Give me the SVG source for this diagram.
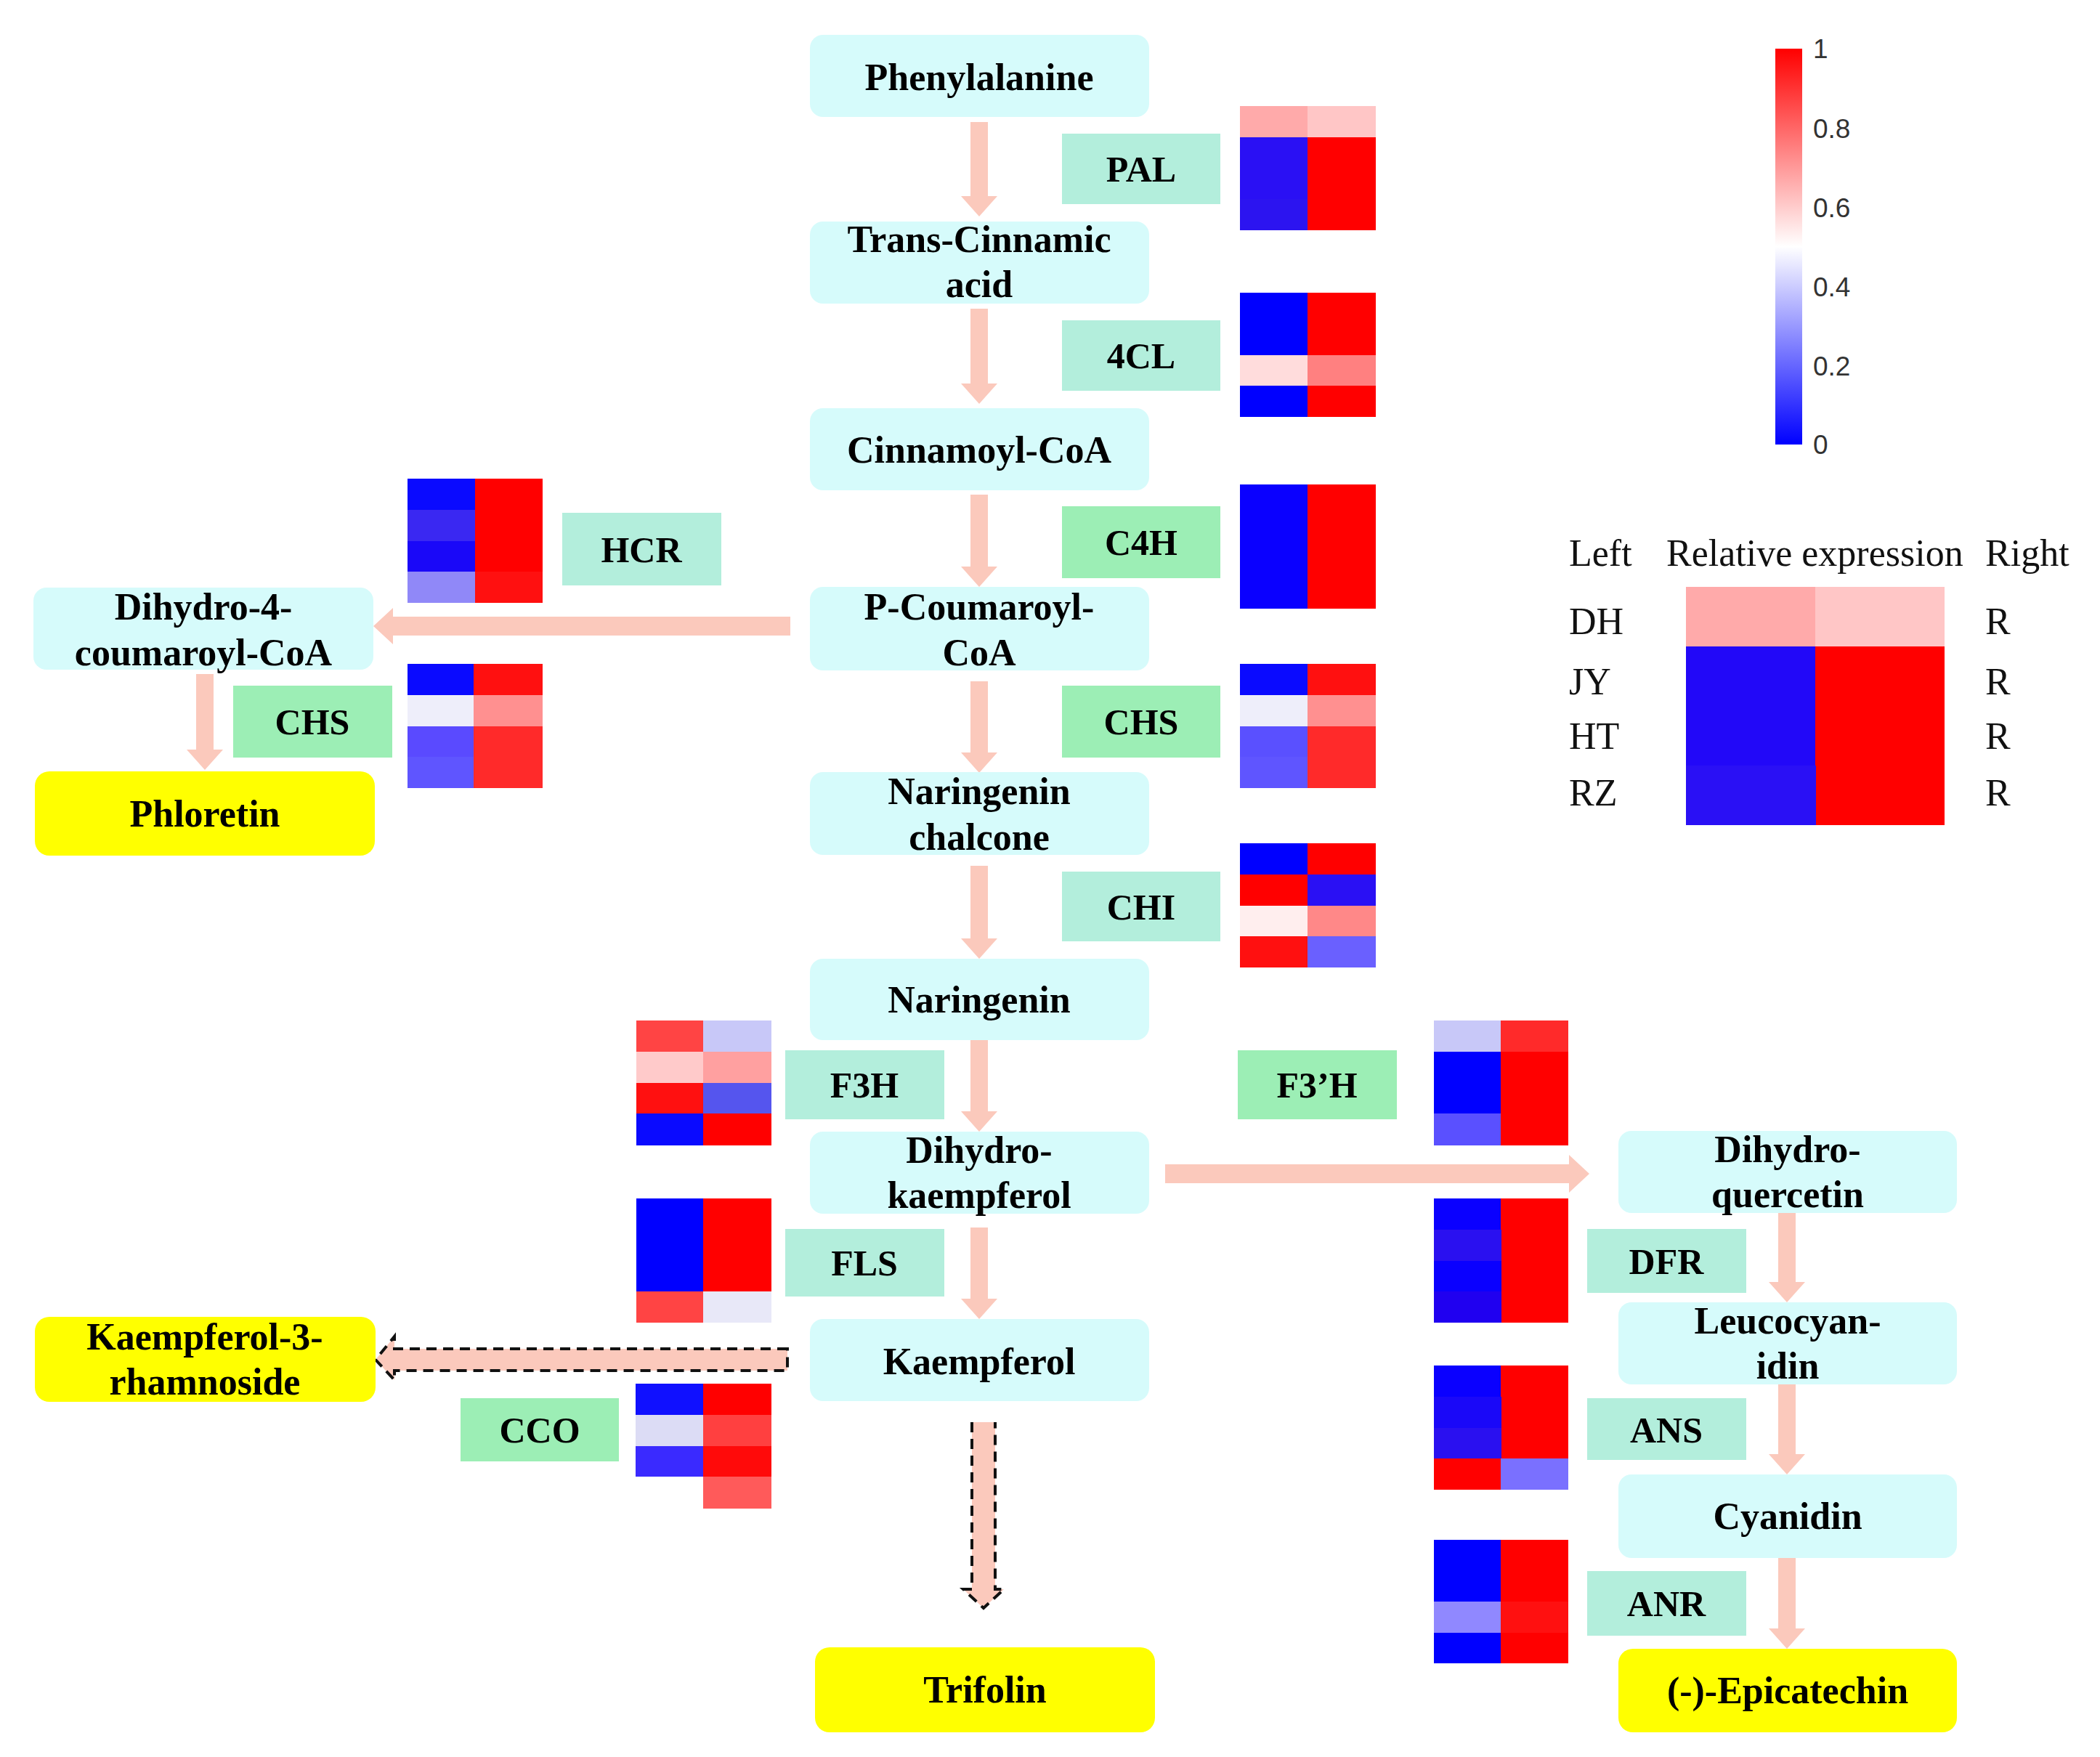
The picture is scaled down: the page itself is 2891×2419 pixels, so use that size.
<svg xmlns="http://www.w3.org/2000/svg" width="2891" height="2419" viewBox="0 0 2891 2419">
<style>
.node{fill:#d6fbfb}
.prod{fill:#ffff00}
.et{fill:#b3eedc}
.eg{fill:#9ceeb5}
.lbl{font-family:"Liberation Serif","Times New Roman",serif;font-weight:bold;font-size:52px;text-anchor:middle;fill:#000}
.elbl{font-family:"Liberation Serif","Times New Roman",serif;font-weight:bold;font-size:50px;text-anchor:middle;fill:#000}
.leg{font-family:"Liberation Serif","Times New Roman",serif;font-size:52px;fill:#111}
.tick{font-family:"Liberation Sans",Arial,sans-serif;font-size:37px;fill:#333}
.arr{fill:#fbc9bc}
.dash{fill:none;stroke:#111;stroke-width:4;stroke-dasharray:14 9}
</style>
<defs>
<linearGradient id="cbar" x1="0" y1="0" x2="0" y2="1">
<stop offset="0" stop-color="#ff0000"/>
<stop offset="0.5" stop-color="#ffffff"/>
<stop offset="1" stop-color="#0000ff"/>
</linearGradient>
</defs>
<rect width="2891" height="2419" fill="#ffffff"/>

<g id="connectors">
<polygon class="arr" points="1336,168 1360,168 1360,270 1373,270 1348,298 1323,270 1336,270"/>
<polygon class="arr" points="1336,425 1360,425 1360,528 1373,528 1348,556 1323,528 1336,528"/>
<polygon class="arr" points="1336,681 1360,681 1360,780 1373,780 1348,808 1323,780 1336,780"/>
<polygon class="arr" points="1336,938 1360,938 1360,1036 1373,1036 1348,1064 1323,1036 1336,1036"/>
<polygon class="arr" points="1336,1192 1360,1192 1360,1292 1373,1292 1348,1320 1323,1292 1336,1292"/>
<polygon class="arr" points="1336,1432 1360,1432 1360,1530 1373,1530 1348,1558 1323,1530 1336,1530"/>
<polygon class="arr" points="1336,1690 1360,1690 1360,1788 1373,1788 1348,1816 1323,1788 1336,1788"/>
<polygon class="arr" points="270,928 294,928 294,1032 307,1032 282,1060 257,1032 270,1032"/>
<polygon class="arr" points="2448,1670 2472,1670 2472,1765 2485,1765 2460,1793 2435,1765 2448,1765"/>
<polygon class="arr" points="2448,1906 2472,1906 2472,2002 2485,2002 2460,2030 2435,2002 2448,2002"/>
<polygon class="arr" points="2448,2145 2472,2145 2472,2242 2485,2242 2460,2270 2435,2242 2448,2242"/>
<polygon class="arr" points="1088,849 541,849 541,837 514,862 541,887 541,875 1088,875"/>
<polygon class="arr" points="1604,1603 2160,1603 2160,1590 2188,1616 2160,1642 2160,1629 1604,1629"/>
<path class="arr" d="M1084,1857 H543 V1840 L517,1872 L543,1900 V1887 H1084 Z"/>
<path class="dash" d="M1084,1857 H543 V1840 L517,1872 L543,1900 V1887 H1084 Z"/>
<path class="arr" d="M1338,1958 V2188 H1326 L1354,2214 L1382,2188 H1370 V1958 Z"/>
<path class="dash" d="M1338,1958 V2188 H1326 L1354,2214 L1382,2188 H1370 V1958"/>
</g>

<g id="phenylalanine"><rect class="node" x="1115" y="48" width="467" height="113" rx="18"/><text class="lbl" x="1348" y="124">Phenylalanine</text></g>
<g id="trans-cinnamic-acid"><rect class="node" x="1115" y="305" width="467" height="113" rx="18"/><text class="lbl" x="1348" y="347">Trans-Cinnamic</text><text class="lbl" x="1348" y="409">acid</text></g>
<g id="cinnamoyl-coa"><rect class="node" x="1115" y="562" width="467" height="113" rx="18"/><text class="lbl" x="1348" y="637">Cinnamoyl-CoA</text></g>
<g id="p-coumaroyl-coa"><rect class="node" x="1115" y="808" width="467" height="115" rx="18"/><text class="lbl" x="1348" y="853">P-Coumaroyl-</text><text class="lbl" x="1348" y="916">CoA</text></g>
<g id="naringenin-chalcone"><rect class="node" x="1115" y="1063" width="467" height="114" rx="18"/><text class="lbl" x="1348" y="1107">Naringenin</text><text class="lbl" x="1348" y="1170">chalcone</text></g>
<g id="naringenin"><rect class="node" x="1115" y="1320" width="467" height="112" rx="18"/><text class="lbl" x="1348" y="1394">Naringenin</text></g>
<g id="dihydrokaempferol"><rect class="node" x="1115" y="1558" width="467" height="113" rx="18"/><text class="lbl" x="1348" y="1601">Dihydro-</text><text class="lbl" x="1348" y="1663">kaempferol</text></g>
<g id="kaempferol"><rect class="node" x="1115" y="1816" width="467" height="113" rx="18"/><text class="lbl" x="1348" y="1892">Kaempferol</text></g>
<g id="trifolin"><rect class="prod" x="1122" y="2268" width="468" height="117" rx="20"/><text class="lbl" x="1356" y="2344">Trifolin</text></g>
<g id="dihydro-4-coumaroyl-coa"><rect class="node" x="46" y="809" width="468" height="113" rx="18"/><text class="lbl" x="280" y="853">Dihydro-4-</text><text class="lbl" x="280" y="916">coumaroyl-CoA</text></g>
<g id="phloretin"><rect class="prod" x="48" y="1062" width="468" height="116" rx="20"/><text class="lbl" x="282" y="1138">Phloretin</text></g>
<g id="kaempferol-3-rhamnoside"><rect class="prod" x="48" y="1813" width="469" height="117" rx="20"/><text class="lbl" x="282" y="1858">Kaempferol-3-</text><text class="lbl" x="282" y="1920">rhamnoside</text></g>
<g id="dihydroquercetin"><rect class="node" x="2228" y="1557" width="466" height="113" rx="18"/><text class="lbl" x="2461" y="1600">Dihydro-</text><text class="lbl" x="2461" y="1662">quercetin</text></g>
<g id="leucocyanidin"><rect class="node" x="2228" y="1793" width="466" height="113" rx="18"/><text class="lbl" x="2461" y="1836">Leucocyan-</text><text class="lbl" x="2461" y="1898">idin</text></g>
<g id="cyanidin"><rect class="node" x="2228" y="2030" width="466" height="115" rx="18"/><text class="lbl" x="2461" y="2105">Cyanidin</text></g>
<g id="epicatechin"><rect class="prod" x="2228" y="2270" width="466" height="115" rx="20"/><text class="lbl" x="2461" y="2345">(-)-Epicatechin</text></g>

<g id="enz-pal"><rect class="et" x="1462" y="184" width="218" height="97"/><text class="elbl" x="1571" y="250">PAL</text></g>
<g id="enz-4cl"><rect class="et" x="1462" y="441" width="218" height="97"/><text class="elbl" x="1571" y="507">4CL</text></g>
<g id="enz-c4h"><rect class="eg" x="1462" y="697" width="218" height="99"/><text class="elbl" x="1571" y="764">C4H</text></g>
<g id="enz-chs"><rect class="eg" x="1462" y="944" width="218" height="99"/><text class="elbl" x="1571" y="1011">CHS</text></g>
<g id="enz-chi"><rect class="et" x="1462" y="1200" width="218" height="96"/><text class="elbl" x="1571" y="1266">CHI</text></g>
<g id="enz-hcr"><rect class="et" x="774" y="706" width="219" height="100"/><text class="elbl" x="883" y="774">HCR</text></g>
<g id="enz-chs-left"><rect class="eg" x="321" y="944" width="219" height="99"/><text class="elbl" x="430" y="1011">CHS</text></g>
<g id="enz-f3h"><rect class="et" x="1081" y="1446" width="219" height="95"/><text class="elbl" x="1190" y="1511">F3H</text></g>
<g id="enz-f3ph"><rect class="eg" x="1704" y="1446" width="219" height="95"/><text class="elbl" x="1813" y="1511">F3’H</text></g>
<g id="enz-fls"><rect class="et" x="1081" y="1692" width="219" height="93"/><text class="elbl" x="1190" y="1756">FLS</text></g>
<g id="enz-cco"><rect class="eg" x="634" y="1925" width="218" height="87"/><text class="elbl" x="743" y="1986">CCO</text></g>
<g id="enz-dfr"><rect class="et" x="2185" y="1692" width="219" height="88"/><text class="elbl" x="2294" y="1754">DFR</text></g>
<g id="enz-ans"><rect class="et" x="2185" y="1925" width="219" height="85"/><text class="elbl" x="2294" y="1986">ANS</text></g>
<g id="enz-anr"><rect class="et" x="2185" y="2163" width="219" height="89"/><text class="elbl" x="2294" y="2225">ANR</text></g>

<g id="hm-pal" transform="translate(1707,146)">
<rect x="0" y="0" width="94" height="43" fill="#ffaaaa"/><rect x="93" y="0" width="94" height="43" fill="#ffc6c6"/>
<rect x="0" y="43" width="94" height="43" fill="#2a10f4"/><rect x="93" y="43" width="94" height="43" fill="#ff0000"/>
<rect x="0" y="86" width="94" height="42" fill="#2a10f4"/><rect x="93" y="86" width="94" height="42" fill="#ff0000"/>
<rect x="0" y="128" width="94" height="43" fill="#2c14f0"/><rect x="93" y="128" width="94" height="43" fill="#ff0000"/>
</g>
<g id="hm-4cl" transform="translate(1707,403)">
<rect x="0" y="0" width="94" height="43" fill="#0000ff"/><rect x="93" y="0" width="94" height="43" fill="#ff0000"/>
<rect x="0" y="43" width="94" height="43" fill="#0000ff"/><rect x="93" y="43" width="94" height="43" fill="#ff0000"/>
<rect x="0" y="86" width="94" height="42" fill="#ffdcdc"/><rect x="93" y="86" width="94" height="42" fill="#ff8080"/>
<rect x="0" y="128" width="94" height="43" fill="#0000ff"/><rect x="93" y="128" width="94" height="43" fill="#ff0000"/>
</g>
<g id="hm-c4h" transform="translate(1707,667)">
<rect x="0" y="0" width="94" height="171" fill="#0a00ff"/><rect x="93" y="0" width="94" height="171" fill="#ff0000"/>
</g>
<g id="hm-chs" transform="translate(1707,914)">
<rect x="0" y="0" width="94" height="43" fill="#0a0aff"/><rect x="93" y="0" width="94" height="43" fill="#ff1010"/>
<rect x="0" y="43" width="94" height="43" fill="#eeeefa"/><rect x="93" y="43" width="94" height="43" fill="#ff9090"/>
<rect x="0" y="86" width="94" height="42" fill="#5a50ff"/><rect x="93" y="86" width="94" height="42" fill="#ff2a2a"/>
<rect x="0" y="128" width="94" height="43" fill="#5f55ff"/><rect x="93" y="128" width="94" height="43" fill="#ff2a2a"/>
</g>
<g id="hm-chi" transform="translate(1707,1161)">
<rect x="0" y="0" width="94" height="43" fill="#0000ff"/><rect x="93" y="0" width="94" height="43" fill="#ff0000"/>
<rect x="0" y="43" width="94" height="43" fill="#ff0000"/><rect x="93" y="43" width="94" height="43" fill="#2a10f4"/>
<rect x="0" y="86" width="94" height="42" fill="#ffeeee"/><rect x="93" y="86" width="94" height="42" fill="#ff8888"/>
<rect x="0" y="128" width="94" height="43" fill="#ff1010"/><rect x="93" y="128" width="94" height="43" fill="#6a60ff"/>
</g>
<g id="hm-hcr" transform="translate(561,659)">
<rect x="0" y="0" width="94" height="43" fill="#0a0aff"/><rect x="93" y="0" width="93" height="43" fill="#ff0000"/>
<rect x="0" y="43" width="94" height="43" fill="#3a28f2"/><rect x="93" y="43" width="93" height="43" fill="#ff0000"/>
<rect x="0" y="86" width="94" height="42" fill="#1a08f8"/><rect x="93" y="86" width="93" height="42" fill="#ff0000"/>
<rect x="0" y="128" width="94" height="43" fill="#9088f8"/><rect x="93" y="128" width="93" height="43" fill="#ff1010"/>
</g>
<g id="hm-chs-left" transform="translate(561,914)">
<rect x="0" y="0" width="92" height="43" fill="#0a0aff"/><rect x="91" y="0" width="95" height="43" fill="#ff1010"/>
<rect x="0" y="43" width="92" height="43" fill="#eeeefa"/><rect x="91" y="43" width="95" height="43" fill="#ff9090"/>
<rect x="0" y="86" width="92" height="42" fill="#5a4aff"/><rect x="91" y="86" width="95" height="42" fill="#ff2a2a"/>
<rect x="0" y="128" width="92" height="43" fill="#5f55ff"/><rect x="91" y="128" width="95" height="43" fill="#ff2a2a"/>
</g>
<g id="hm-f3h" transform="translate(876,1405)">
<rect x="0" y="0" width="93" height="43" fill="#ff4444"/><rect x="92" y="0" width="94" height="43" fill="#c8c8f8"/>
<rect x="0" y="43" width="93" height="43" fill="#ffcaca"/><rect x="92" y="43" width="94" height="43" fill="#ffa0a0"/>
<rect x="0" y="86" width="93" height="42" fill="#ff1010"/><rect x="92" y="86" width="94" height="42" fill="#5555ee"/>
<rect x="0" y="128" width="93" height="44" fill="#0a0aff"/><rect x="92" y="128" width="94" height="44" fill="#ff0000"/>
</g>
<g id="hm-fls" transform="translate(876,1650)">
<rect x="0" y="0" width="93" height="128" fill="#0000ff"/><rect x="92" y="0" width="94" height="128" fill="#ff0000"/>
<rect x="0" y="128" width="93" height="43" fill="#ff4444"/><rect x="92" y="128" width="94" height="43" fill="#e8e8f8"/>
</g>
<g id="hm-cco" transform="translate(875,1905)">
<rect x="0" y="0" width="94" height="43" fill="#1010ff"/><rect x="93" y="0" width="94" height="43" fill="#ff0000"/>
<rect x="0" y="43" width="94" height="43" fill="#dcdcf5"/><rect x="93" y="43" width="94" height="43" fill="#ff4040"/>
<rect x="0" y="86" width="94" height="42" fill="#3a2aff"/><rect x="93" y="86" width="94" height="42" fill="#ff0a0a"/>
<rect x="93" y="128" width="94" height="44" fill="#ff5a5a"/>
</g>
<g id="hm-f3ph" transform="translate(1974,1405)">
<rect x="0" y="0" width="93" height="43" fill="#c8c8f8"/><rect x="92" y="0" width="93" height="43" fill="#ff2a2a"/>
<rect x="0" y="43" width="93" height="86" fill="#0000ff"/><rect x="92" y="43" width="93" height="86" fill="#ff0000"/>
<rect x="0" y="128" width="93" height="44" fill="#5a50ff"/><rect x="92" y="128" width="93" height="44" fill="#ff0000"/>
</g>
<g id="hm-dfr" transform="translate(1974,1650)">
<rect x="0" y="0" width="93" height="43" fill="#0a00ff"/><rect x="92" y="0" width="93" height="171" fill="#ff0000"/>
<rect x="0" y="43" width="93" height="43" fill="#2a10f0"/>
<rect x="0" y="86" width="93" height="42" fill="#0a00ff"/>
<rect x="0" y="128" width="93" height="43" fill="#2000f0"/>
</g>
<g id="hm-ans" transform="translate(1974,1880)">
<rect x="0" y="0" width="93" height="43" fill="#0a00ff"/><rect x="92" y="0" width="93" height="128" fill="#ff0000"/>
<rect x="0" y="43" width="93" height="43" fill="#1a08f8"/>
<rect x="0" y="86" width="93" height="42" fill="#2a10f0"/>
<rect x="0" y="128" width="93" height="43" fill="#ff0000"/><rect x="92" y="128" width="93" height="43" fill="#7a70ff"/>
</g>
<g id="hm-anr" transform="translate(1974,2120)">
<rect x="0" y="0" width="93" height="85" fill="#0000ff"/><rect x="92" y="0" width="93" height="85" fill="#ff0000"/>
<rect x="0" y="85" width="93" height="43" fill="#9088ff"/><rect x="92" y="85" width="93" height="43" fill="#ff1010"/>
<rect x="0" y="128" width="93" height="42" fill="#0000ff"/><rect x="92" y="128" width="93" height="42" fill="#ff0000"/>
</g>

<g id="colorbar">
<rect x="2444" y="67" width="37" height="545" fill="url(#cbar)"/>
<text class="tick" x="2496" y="80">1</text>
<text class="tick" x="2496" y="190">0.8</text>
<text class="tick" x="2496" y="299">0.6</text>
<text class="tick" x="2496" y="408">0.4</text>
<text class="tick" x="2496" y="517">0.2</text>
<text class="tick" x="2496" y="625">0</text>
</g>

<g id="legend">
<text class="leg" x="2160" y="779">Left</text>
<text class="leg" x="2294" y="779">Relative expression</text>
<text class="leg" x="2733" y="779">Right</text>
<text class="leg" x="2160" y="873">DH</text>
<text class="leg" x="2160" y="956">JY</text>
<text class="leg" x="2160" y="1031">HT</text>
<text class="leg" x="2160" y="1109">RZ</text>
<text class="leg" x="2733" y="873">R</text>
<text class="leg" x="2733" y="956">R</text>
<text class="leg" x="2733" y="1031">R</text>
<text class="leg" x="2733" y="1109">R</text>
<g transform="translate(2321,808)">
<rect x="0" y="0" width="179" height="82" fill="#ffaaaa"/><rect x="178" y="0" width="178" height="82" fill="#ffc6c6"/>
<rect x="0" y="82" width="179" height="246" fill="#2208f8"/><rect x="178" y="82" width="178" height="246" fill="#ff0000"/>
<rect x="0" y="246" width="179" height="82" fill="#2a10f5"/>
</g>
</g>
</svg>
